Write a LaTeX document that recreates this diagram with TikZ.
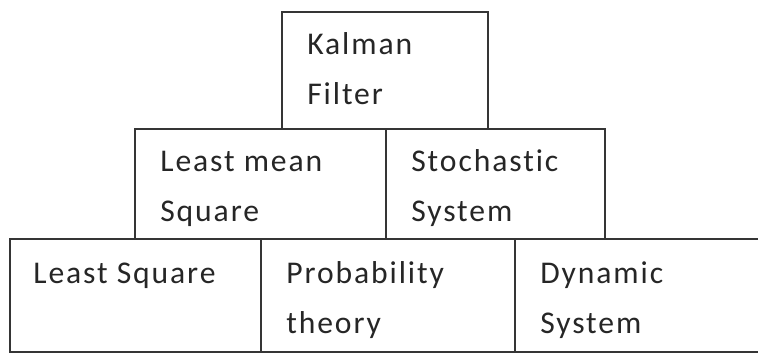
\documentclass[tikz,border=0pt]{standalone}
\usepackage{fontspec}
\setmainfont{Carlito}[Ligatures=NoCommon]
\usetikzlibrary{positioning}
\definecolor{edgegray}{HTML}{353535}
\definecolor{txtgray}{HTML}{262626}

\begin{document}
\begin{tikzpicture}[
    every node/.style={text=txtgray},
  ]

  % Frame
  \useasboundingbox (0,0) rectangle (15.16,7.08);
  \clip (0,0) rectangle (15.16,7.08);

  % --- Styles ---
  \tikzset{
    block/.style={draw=edgegray, line width=1.4pt, anchor=north west,
                  inner sep=0pt, outer sep=0pt, minimum height=2.2cm},
    blocktxt/.style={anchor=base west, align=left, inner sep=0pt,
                     font=\fontsize{18}{28.5}\selectfont\addfontfeatures{LetterSpace=6}},
  }

  % --- Top row ---
  \node[block, minimum width=4.12cm, minimum height=2.34cm] (kalman) at (5.64,6.84) {};

  % --- Middle row ---
  \node[block, minimum width=5.02cm] (lms)   at (2.70,4.50)      {};
  \node[block, minimum width=4.38cm] (stoch) at (lms.north east) {};

  % --- Bottom row ---
  \node[block, minimum width=5.02cm, minimum height=2.26cm] (lsq)  at (0.20,2.30)       {};
  \node[block, minimum width=5.08cm, minimum height=2.26cm] (prob) at (lsq.north east)  {};
  \node[block, minimum width=5.20cm, minimum height=2.26cm] (dyn)  at (prob.north east) {};

  % --- Labels (base = last line) ---
  \node[blocktxt] (kalman-txt) at ([shift={(0.50,-1.86)}]kalman.north west) {Kalman\\Filter};
  \node[blocktxt] (lms-txt)    at ([shift={(0.50,-1.86)}]lms.north west)    {Least mean\\Square};
  \node[blocktxt] (stoch-txt)  at ([shift={(0.50,-1.86)}]stoch.north west)  {Stochastic\\System};
  \node[blocktxt] (lsq-txt)    at ([shift={(0.46,-0.90)}]lsq.north west)    {Least Square};
  \node[blocktxt] (prob-txt)   at ([shift={(0.50,-1.90)}]prob.north west)   {Probability\\theory};
  \node[blocktxt] (dyn-txt)    at ([shift={(0.50,-1.90)}]dyn.north west)    {Dynamic\\System};

\end{tikzpicture}
\end{document}
